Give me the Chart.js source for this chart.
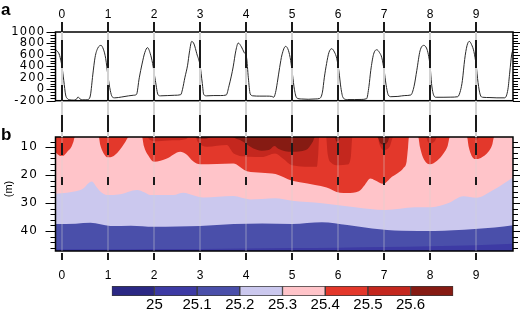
<!DOCTYPE html>
<html><head><meta charset="utf-8">
<script src="https://cdn.jsdelivr.net/npm/chart.js@4/dist/chart.umd.min.js"></script>
<style>
html,body{margin:0;padding:0;background:#fff;}
#wrap{position:relative;width:524px;height:311px;overflow:hidden;background:#fff;}
canvas{position:absolute;left:0;top:0;}
.pl{position:absolute;font-family:"Liberation Sans",Arial,sans-serif;font-weight:bold;color:#000;line-height:16px;font-size:17px;}
#mlab{position:absolute;left:8px;top:189px;transform:translate(-50%,-50%) rotate(-90deg);font-family:"Liberation Sans",Arial,sans-serif;font-size:11px;color:#000;white-space:nowrap;}
</style></head><body>
<div id="wrap">
<canvas id="cb" width="524" height="311"></canvas>
<canvas id="cbar" width="524" height="311"></canvas>
<canvas id="ca" width="524" height="311"></canvas>
<div class="pl" style="left:1px;top:2px;">a</div>
<div class="pl" style="left:1px;top:127px;">b</div>
<div id="mlab">(m)</div>
</div>
<script>
// ---------- data ----------
const DAYS = [0,1,2,3,4,5,6,7,8,9];
const RAD_TICKS = [-200,0,200,400,600,800,1000];
const DEPTH_TICKS = [10,20,30,40];
const LEVELS = ['25','25.1','25.2','25.3','25.4','25.5','25.6'];
const LEVEL_COLORS = ['#2b2884','#3d3aa4','#4a4faa','#cbc8ee','#ffc4c9','#e3382b','#c4271e','#861b13'];

// panel a : time (days) and value
const SW_TIME = [-0.14,-0.10,-0.05,0.00,0.04,0.08,0.12,0.18,0.25,0.31,0.35,0.39,0.45,0.52,0.58,0.62,0.67,0.72,0.78,0.85,0.90,0.95,
 1.00,1.05,1.09,1.15,1.30,1.45,1.55,1.62,1.68,1.74,1.80,1.86,1.92,1.97,
 2.03,2.09,2.14,2.30,2.45,2.58,2.62,2.67,2.73,2.77,2.82,2.87,2.93,
 3.00,3.05,3.08,3.14,3.30,3.45,3.57,3.63,3.68,3.72,3.78,3.83,3.90,3.96,
 4.01,4.05,4.09,4.15,4.30,4.45,4.56,4.60,4.64,4.68,4.73,4.78,4.86,4.92,4.97,
 5.01,5.05,5.10,5.20,5.35,5.50,5.60,5.66,5.70,5.75,5.80,5.86,5.92,5.97,
 6.02,6.06,6.11,6.20,6.35,6.50,6.62,6.67,6.71,6.77,6.84,6.90,6.95,
 7.00,7.04,7.09,7.15,7.30,7.45,7.58,7.65,7.71,7.78,7.86,7.92,7.96,
 8.00,8.03,8.08,8.13,8.30,8.45,8.60,8.66,8.70,8.75,8.80,8.85,8.90,8.95,
 9.00,9.04,9.09,9.14,9.30,9.45,9.62,9.69,9.73,9.77,9.80];
const SW_VALUE = [690,665,590,400,150,-100,-165,-185,-190,-178,-135,-168,-185,-185,-175,-100,250,560,720,766,700,540,
 230,-20,-130,-150,-135,-115,-105,-90,200,440,640,727,620,450,
 150,-100,-115,-110,-105,-95,0,200,420,650,836,790,620,
 420,100,-90,-115,-110,-110,-100,60,230,390,680,807,740,640,
 560,200,-80,-115,-120,-120,-125,-140,-60,120,380,600,749,680,500,
 250,0,-150,-170,-175,-170,-160,-50,200,450,640,708,650,540,
 300,30,-150,-180,-180,-178,-165,50,330,610,690,640,550,
 330,90,-100,-130,-125,-110,-100,50,330,670,766,720,610,
 400,100,-110,-140,-140,-138,-130,-20,150,520,760,836,780,660,
 420,120,-100,-140,-145,-150,-150,0,300,600,690];

// panel b : isotherm depths (m) against time (days); 6.3 = at/above the top of the plot
const ISO_251 = [[-0.14,46.6],[1,46.6],[2,46.5],[3,46.5],[4,46.3],[5,46.1],[6,46.0],[7,45.8],[8,45.5],[9,45.1],[9.8,44.6]];
const ISO_252 = [[-0.14,37.5],[0.3,37.4],[0.62,37.1],[1.05,38.2],[1.5,38.1],[2.0,38.5],[2.5,38.4],[3.0,38.2],[3.73,37.5],[4.35,37.3],
 [5.0,37.5],[5.65,36.9],[6.2,37.9],[6.74,39.1],[7.39,39.9],[8.1,40.0],[8.5,39.8],[8.97,39.3],[9.4,38.8],[9.8,38.0]];
const ISO_253 = [[-0.14,26.7],[0.11,26.3],[0.3,25.8],[0.47,24.7],[0.57,23.0],[0.65,22.3],[0.75,24.2],[0.84,25.9],[0.98,27.1],[1.27,26.8],
 [1.63,25.3],[1.8,26.2],[1.92,27.1],[2.42,27.1],[2.64,26.3],[2.85,27.2],[3.07,28.0],[3.72,27.5],[4.09,28.7],[4.35,28.5],[4.63,28.3],
 [5.0,29.2],[5.65,30.1],[6.37,31.5],[7.02,32.5],[7.67,31.5],[8.03,31.5],[8.4,30.0],[8.72,27.6],[9.0,28.1],[9.37,25.3],[9.8,20.8]];
const ISO_254 = [[-0.14,11.8],[-0.05,13.0],[0.02,13.1],[0.12,11.5],[0.2,10.0],[0.25,8.0],[0.28,6.3],[0.8,6.3],[0.83,9.0],[0.9,12.0],
 [1.0,13.6],[1.1,13.3],[1.2,12.0],[1.3,10.0],[1.38,8.0],[1.45,6.3],[1.74,6.3],[1.78,9.5],[1.88,13.0],[2.0,15.2],[2.28,14.0],[2.57,11.6],
 [2.7,12.5],[2.85,15.0],[3.0,16.1],[3.72,15.8],[4.02,18.6],[4.34,19.1],[4.64,19.6],[5.0,22.0],[5.17,22.5],[5.5,23.5],[5.75,24.4],
 [6.04,26.3],[6.2,26.4],[6.45,25.8],[6.58,23.5],[6.7,21.2],[6.8,21.8],[6.98,23.1],[7.17,20.6],[7.3,19.2],[7.42,17.4],[7.49,15.0],
 [7.52,10.0],[7.54,6.3],[7.74,6.3],[7.78,10.0],[7.85,13.8],[8.0,16.1],[8.15,14.8],[8.29,12.2],[8.38,9.5],[8.43,6.3],[8.8,6.3],
 [8.84,10.0],[8.9,13.0],[8.98,14.2],[9.1,13.8],[9.27,11.5],[9.35,9.0],[9.39,6.3],[9.8,6.3]];
const ISO_255 = [[-0.14,6.3],[1.86,6.3],[1.9,7.2],[2.07,7.8],[2.4,7.5],[2.7,7.0],[2.75,6.3],[2.9,6.3],[2.95,8.0],[3.15,9.8],[3.58,9.2],
 [3.73,12.2],[4.09,13.4],[4.34,13.5],[4.63,12.2],[4.8,14.0],[5.0,16.4],[5.54,17.0],[5.57,12.0],[5.59,6.3],[5.74,6.3],[5.77,12.0],
 [5.85,15.5],[6.01,16.4],[6.2,16.2],[6.28,13.0],[6.31,6.3],[6.86,6.3],[6.9,9.0],[6.99,11.0],[7.12,9.8],[7.2,6.3],[7.91,6.3],
 [7.95,8.0],[8.0,8.6],[8.1,7.8],[8.15,6.3],[8.93,6.3],[9.0,7.5],[9.08,6.3],[9.8,6.3]];
const ISO_256 = [[-0.14,6.3],[2.9,6.3],[2.95,6.8],[3.1,6.9],[3.29,6.3],[3.7,6.3],[3.8,7.0],[3.87,7.4],[4.16,10.4],[4.34,11.2],[4.49,11.0],
 [4.62,9.5],[4.7,10.5],[5.0,11.6],[5.3,11.0],[5.45,8.0],[5.5,6.3],[5.92,6.3],[5.97,8.0],[6.02,7.5],[6.06,6.3],[6.85,6.3],[6.92,8.5],
 [7.0,9.0],[7.08,8.0],[7.12,6.3],[9.8,6.3]];

// ---------- layout settings ----------
const FONT = "'Liberation Sans', Arial, sans-serif";
const YFONT = "'DejaVu Sans', sans-serif";
const X_MIN = -0.14, X_MAX = 9.8;
const PLOT_LEFT = 55.5, PLOT_RIGHT_PAD = 11;
const DEPTH_MIN = 6.3, DEPTH_MAX = 47.2;

function spacedLabels(id, sp){
  return { id:'sp'+id, beforeDraw(c){
    const s = c.scales[id];
    if (s && !s.__sp){
      const o = s.drawLabels;
      s.drawLabels = function(a){ const ctx=this.ctx; ctx.letterSpacing=sp; o.call(this,a); ctx.letterSpacing='0px'; };
      s.__sp = true;
    }
  }};
}
function yTicks(ctx, scale, area, values, majorOf, majLen, minLen){
  ctx.save(); ctx.strokeStyle='#000'; ctx.lineWidth=1;
  values.forEach(v=>{
    const py = Math.round(scale.getPixelForValue(v))+0.5;
    const mj = majorOf(v);
    ctx.beginPath();
    ctx.moveTo(area.left-(mj?majLen:minLen), py); ctx.lineTo(area.left, py);
    ctx.moveTo(area.right, py); ctx.lineTo(area.right+(mj?7:5), py);
    ctx.stroke();
  });
  ctx.restore();
}

// ---------- panel b (contours) ----------
const isoSets = [
  [ISO_256, LEVEL_COLORS[7]], [ISO_255, LEVEL_COLORS[6]], [ISO_254, LEVEL_COLORS[5]],
  [ISO_253, LEVEL_COLORS[4]], [ISO_252, LEVEL_COLORS[3]], [ISO_251, LEVEL_COLORS[2]]
];
const frameB = {
  id:'frameB',
  beforeDatasetsDraw(c){
    const {ctx, chartArea:a} = c;
    ctx.save(); ctx.fillStyle = LEVEL_COLORS[1]; ctx.fillRect(a.left, a.top, a.right-a.left, a.bottom-a.top); ctx.restore();
  },
  afterDraw(c){
    const {ctx, chartArea:a, scales:{y}} = c;
    const vals=[]; for(let v=8; v<=46; v+=2) vals.push(v);
    yTicks(ctx, y, a, vals, v=>DEPTH_TICKS.includes(v), 10, 5);
    ctx.save(); ctx.strokeStyle='#000'; ctx.lineWidth=1.5;
    ctx.strokeRect(a.left, a.top, a.right-a.left, a.bottom-a.top); ctx.restore();
  }
};
new Chart(document.getElementById('cb'), {
  type:'line',
  data:{ datasets: isoSets.map(([pts,col])=>({
    data: pts.map(p=>({x:p[0], y:p[1]})),
    borderWidth:0, borderColor:col, backgroundColor:col, pointRadius:0,
    cubicInterpolationMode:'monotone', fill:{value:DEPTH_MIN}
  }))},
  options:{
    responsive:false, animation:false, events:[],
    layout:{padding:{left:0, top:137, right:PLOT_RIGHT_PAD, bottom:0}},
    plugins:{legend:{display:false}, tooltip:{enabled:false}},
    scales:{
      x:{type:'linear', position:'bottom', min:X_MIN, max:X_MAX,
        afterBuildTicks:s=>{ s.ticks = DAYS.map(v=>({value:v})); },
        afterFit:s=>{ s.height = 60; },
        grid:{display:false, drawTicks:false}, border:{display:false},
        ticks:{color:'#000', font:{family:FONT, size:12}, padding:17, maxRotation:0, autoSkip:false, callback:v=>String(v)}},
      y:{type:'linear', reverse:true, min:DEPTH_MIN, max:DEPTH_MAX,
        afterBuildTicks:s=>{ s.ticks = DEPTH_TICKS.map(v=>({value:v})); },
        afterFit:s=>{ s.width = PLOT_LEFT; },
        grid:{display:false, drawTicks:false}, border:{display:false},
        ticks:{color:'#000', font:{family:YFONT, size:12}, padding:17.3, autoSkip:false, callback:v=>String(v)}}
    }
  },
  plugins:[frameB, spacedLabels('y','1.2px')]
});

// ---------- colour bar ----------
new Chart(document.getElementById('cbar'), {
  type:'bar',
  data:{ labels:[''], datasets: LEVEL_COLORS.map(col=>({data:[1], backgroundColor:col, borderColor:'#3a3a3a', borderWidth:1, borderSkipped:false, barPercentage:1, categoryPercentage:1})) },
  options:{
    indexAxis:'y', responsive:false, animation:false, events:[],
    layout:{padding:{left:111.7, top:286, right:524-453.3, bottom:0}},
    plugins:{legend:{display:false}, tooltip:{enabled:false}},
    scales:{
      x:{type:'linear', stacked:true, min:0, max:LEVEL_COLORS.length,
        afterBuildTicks:s=>{ s.ticks = LEVELS.map((l,i)=>({value:i+1})); },
        afterFit:s=>{ s.height = 15; },
        grid:{display:false, drawTicks:false}, border:{display:false},
        ticks:{color:'#000', font:{family:FONT, size:15}, padding:0, maxRotation:0, autoSkip:false, callback:(v,i)=>LEVELS[i]}},
      y:{stacked:true, display:false}
    }
  }
});

// ---------- panel a (line) + day lines ----------
const DASH = [10,8,28,17,16,14,17,11,12,22,8,68,7,200];
const frameA = {
  id:'frameA',
  afterDraw(c){
    const {ctx, chartArea:a, scales:{x,y}} = c;
    const vals=[]; for(let v=-200; v<=1000; v+=50) vals.push(v);
    yTicks(ctx, y, a, vals, v=>RAD_TICKS.includes(v), 9, 5);
    ctx.save(); ctx.strokeStyle='#000'; ctx.lineWidth=1.5;
    ctx.strokeRect(a.left, a.top, a.right-a.left, a.bottom-a.top);
    DAYS.forEach(d=>{
      const px = Math.round(x.getPixelForValue(d));
      ctx.setLineDash([]); ctx.lineWidth=2;
      ctx.strokeStyle='#d2d2d2';
      ctx.beginPath(); ctx.moveTo(px, 22); ctx.lineTo(px, 137); ctx.stroke();
      ctx.strokeStyle='rgba(210,210,210,0.25)';
      ctx.beginPath(); ctx.moveTo(px, 137); ctx.lineTo(px, 251); ctx.stroke();
      ctx.strokeStyle='#1a1a1a'; ctx.setLineDash(DASH);
      ctx.beginPath(); ctx.moveTo(px, 22); ctx.lineTo(px, 260); ctx.stroke();
    });
    ctx.restore();
  }
};
new Chart(document.getElementById('ca'), {
  type:'line',
  data:{ datasets:[{ data: SW_TIME.map((t,i)=>({x:t, y:SW_VALUE[i]})), borderColor:'#2a2a2a', borderWidth:1, pointRadius:0, cubicInterpolationMode:'monotone', fill:false }]},
  options:{
    responsive:false, animation:false, events:[],
    layout:{padding:{left:0, top:0, right:PLOT_RIGHT_PAD, bottom:311-100.7}},
    plugins:{legend:{display:false}, tooltip:{enabled:false}},
    scales:{
      x:{type:'linear', position:'top', min:X_MIN, max:X_MAX,
        afterBuildTicks:s=>{ s.ticks = DAYS.map(v=>({value:v})); },
        afterFit:s=>{ s.height = 32; },
        grid:{display:false, drawTicks:false}, border:{display:false},
        ticks:{color:'#000', font:{family:FONT, size:12}, padding:10.5, maxRotation:0, autoSkip:false, callback:v=>String(v)}},
      y:{type:'linear', min:-200, max:1000,
        afterBuildTicks:s=>{ s.ticks = RAD_TICKS.map(v=>({value:v})); },
        afterFit:s=>{ s.width = PLOT_LEFT; },
        grid:{display:false, drawTicks:false}, border:{display:false},
        ticks:{color:'#000', font:{family:YFONT, size:11.5}, padding:10.3, autoSkip:false, callback:v=>String(v)}}
    }
  },
  plugins:[frameA, spacedLabels('y','1.2px')]
});
</script>
</body></html>
